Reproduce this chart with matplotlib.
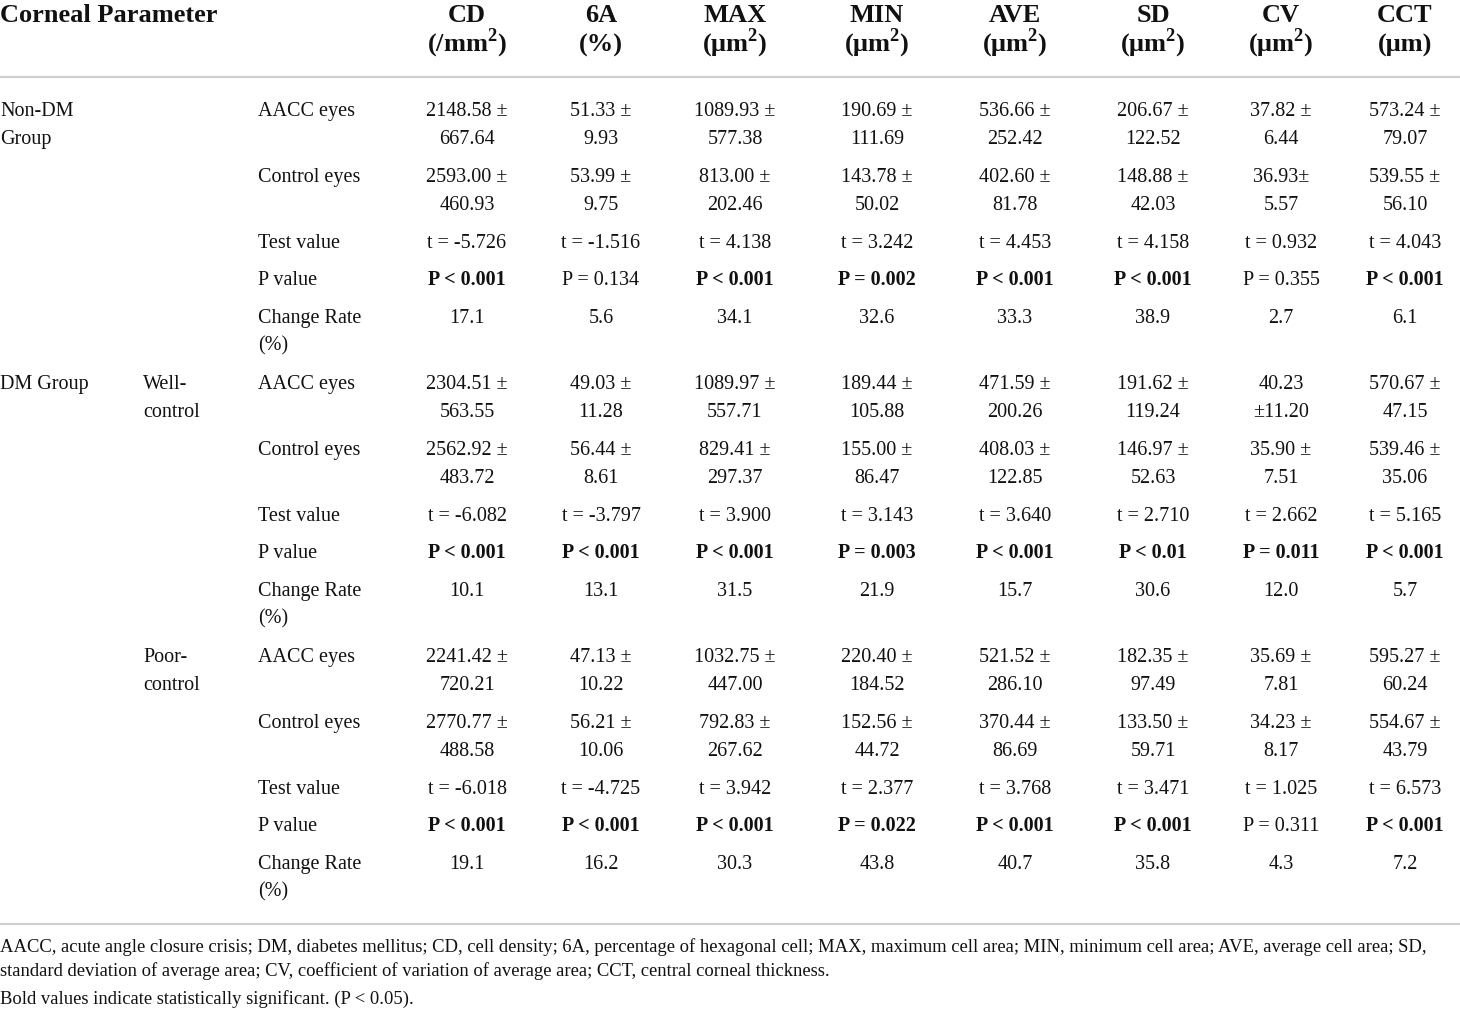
import matplotlib.pyplot as plt

plt.rcParams['font.family'] = ['Liberation Serif', 'DejaVu Serif']
plt.rcParams['mathtext.fontset'] = 'custom'
plt.rcParams['mathtext.rm'] = 'Liberation Serif'
plt.rcParams['mathtext.bf'] = 'Liberation Serif:bold'

# ---- table content ----
columns = ["CD", "6A", "MAX", "MIN", "AVE", "SD", "CV", "CCT"]
units = [r"(/mm$^{\mathbf{2}}$)", "(%)", r"(μm$^{\mathbf{2}}$)", r"(μm$^{\mathbf{2}}$)",
         r"(μm$^{\mathbf{2}}$)", r"(μm$^{\mathbf{2}}$)", r"(μm$^{\mathbf{2}}$)", "(μm)"]
row_labels = ["AACC eyes", "Control eyes", "Test value", "P value", "Change Rate\n(%)"]

nondm_aacc = ["2148.58 ±\n667.64", "51.33 ±\n9.93", "1089.93 ±\n577.38", "190.69 ±\n111.69",
              "536.66 ±\n252.42", "206.67 ±\n122.52", "37.82 ±\n6.44", "573.24 ±\n79.07"]
nondm_ctrl = ["2593.00 ±\n460.93", "53.99 ±\n9.75", "813.00 ±\n202.46", "143.78 ±\n50.02",
              "402.60 ±\n81.78", "148.88 ±\n42.03", "36.93±\n5.57", "539.55 ±\n56.10"]
nondm_t = [-5.726, -1.516, 4.138, 3.242, 4.453, 4.158, 0.932, 4.043]
nondm_p = ["P < 0.001", "P = 0.134", "P < 0.001", "P = 0.002",
           "P < 0.001", "P < 0.001", "P = 0.355", "P < 0.001"]
nondm_rate = [17.1, 5.6, 34.1, 32.6, 33.3, 38.9, 2.7, 6.1]

well_aacc = ["2304.51 ±\n563.55", "49.03 ±\n11.28", "1089.97 ±\n557.71", "189.44 ±\n105.88",
             "471.59 ±\n200.26", "191.62 ±\n119.24", "40.23\n±11.20", "570.67 ±\n47.15"]
well_ctrl = ["2562.92 ±\n483.72", "56.44 ±\n8.61", "829.41 ±\n297.37", "155.00 ±\n86.47",
             "408.03 ±\n122.85", "146.97 ±\n52.63", "35.90 ±\n7.51", "539.46 ±\n35.06"]
well_t = [-6.082, -3.797, 3.900, 3.143, 3.640, 2.710, 2.662, 5.165]
well_p = ["P < 0.001", "P < 0.001", "P < 0.001", "P = 0.003",
          "P < 0.001", "P < 0.01", "P = 0.011", "P < 0.001"]
well_rate = [10.1, 13.1, 31.5, 21.9, 15.7, 30.6, 12.0, 5.7]

poor_aacc = ["2241.42 ±\n720.21", "47.13 ±\n10.22", "1032.75 ±\n447.00", "220.40 ±\n184.52",
             "521.52 ±\n286.10", "182.35 ±\n97.49", "35.69 ±\n7.81", "595.27 ±\n60.24"]
poor_ctrl = ["2770.77 ±\n488.58", "56.21 ±\n10.06", "792.83 ±\n267.62", "152.56 ±\n44.72",
             "370.44 ±\n86.69", "133.50 ±\n59.71", "34.23 ±\n8.17", "554.67 ±\n43.79"]
poor_t = [-6.018, -4.725, 3.942, 2.377, 3.768, 3.471, 1.025, 6.573]
poor_p = ["P < 0.001", "P < 0.001", "P < 0.001", "P = 0.022",
          "P < 0.001", "P < 0.001", "P = 0.311", "P < 0.001"]
poor_rate = [19.1, 16.2, 30.3, 43.8, 40.7, 35.8, 4.3, 7.2]

footnote = ["AACC, acute angle closure crisis; DM, diabetes mellitus; CD, cell density; 6A, percentage of "
            "hexagonal cell; MAX, maximum cell area; MIN, minimum cell area; AVE, average cell area; SD,",
            "standard deviation of average area; CV, coefficient of variation of average area; CCT, central corneal thickness.",
            "Bold values indicate statistically significant. (P < 0.05)."]

blocks = [
    ("Non-DM\nGroup", "", nondm_aacc, nondm_ctrl, nondm_t, nondm_p, nondm_rate),
    ("DM Group", "Well-\ncontrol", well_aacc, well_ctrl, well_t, well_p, well_rate),
    ("", "Poor-\ncontrol", poor_aacc, poor_ctrl, poor_t, poor_p, poor_rate),
]

# ---- layout (pixel coordinates) ----
col_x = [467, 601, 735, 877, 1015, 1153, 1281, 1405]
body_fs = 14.5
head_fs = 19
note_fs = 13.4
line_h = 28
row_offsets = [0, 66, 132, 169, 207]
block_top = [109, 382, 655]
rule_color = '#cfcfcf'
ink = '#111111'

fig = plt.figure(figsize=(14.6, 10.1), dpi=100)
ax = fig.add_axes([0, 0, 1, 1])
ax.set_xlim(0, 1460)
ax.set_ylim(1010, 0)
ax.axis('off')


def put(x, y, s, ha='left', bold=False, fs=body_fs):
    # y is the visual centre of the first line; lines drawn one by one
    for i, line in enumerate(s.split('\n')):
        ax.text(x, y + i * line_h + fs * 0.48, line, ha=ha, va='baseline',
                fontsize=fs, fontweight='bold' if bold else 'normal', color=ink)


# header
ax.text(0, 12 + head_fs * 0.5, "Corneal Parameter", ha='left', va='baseline',
        fontsize=head_fs, fontweight='bold', color=ink)
for x, name, unit in zip(col_x, columns, units):
    ax.text(x, 12 + head_fs * 0.5, name, ha='center', va='baseline',
            fontsize=head_fs, fontweight='bold', color=ink)
    ax.text(x, 42 + head_fs * 0.5, unit, ha='center', va='baseline',
            fontsize=head_fs, fontweight='bold', color=ink)

ax.plot([0, 1460], [77, 77], color=rule_color, lw=1.6)
ax.plot([0, 1460], [924, 924], color=rule_color, lw=1.6)

# body
for top, (g1, g2, aacc, ctrl, tv, pv, rate) in zip(block_top, blocks):
    if g1:
        put(0, top, g1)
    if g2:
        put(143, top, g2)
    for off, lab in zip(row_offsets, row_labels):
        put(258, top + off, lab)
    for j, x in enumerate(col_x):
        put(x, top + row_offsets[0], aacc[j], ha='center')
        put(x, top + row_offsets[1], ctrl[j], ha='center')
        put(x, top + row_offsets[2], f"t = {tv[j]:.3f}", ha='center')
        sig = float(pv[j].split()[-1]) < 0.05
        put(x, top + row_offsets[3], pv[j], ha='center', bold=sig)
        put(x, top + row_offsets[4], f"{rate[j]:.1f}", ha='center')

# footnote
for y, line in zip([946, 970, 998], footnote):
    ax.text(0, y + note_fs * 0.48, line, ha='left', va='baseline',
            fontsize=note_fs, color=ink)

fig.savefig('out.png', dpi=100)
